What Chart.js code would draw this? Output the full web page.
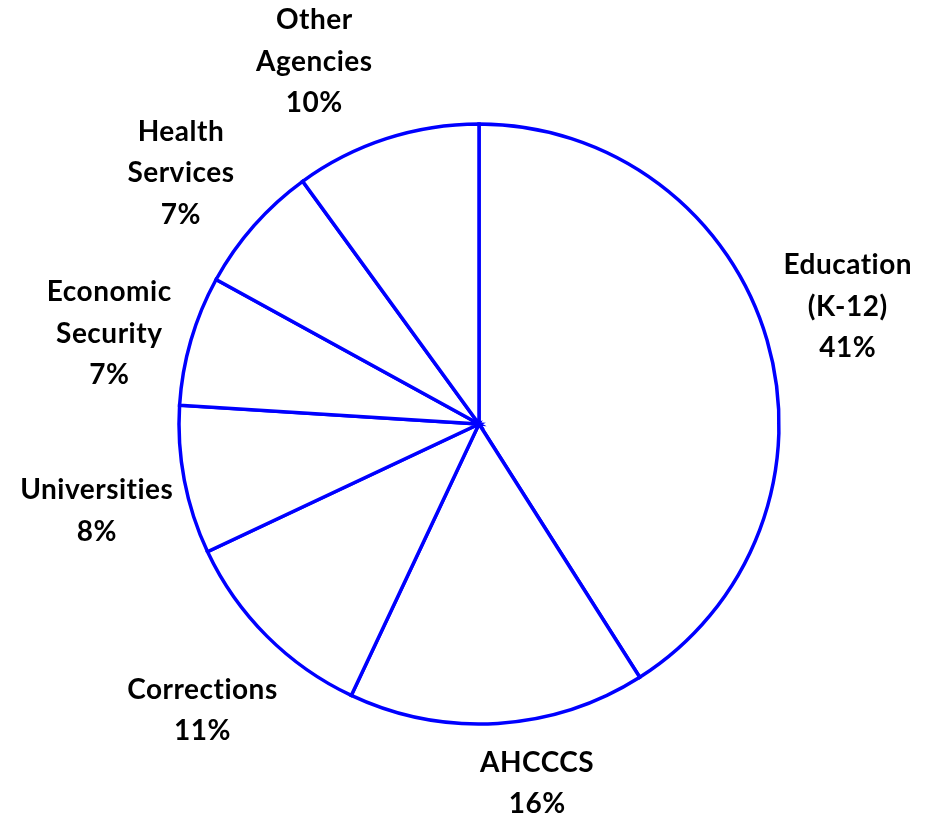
<!DOCTYPE html>
<html>
<head>
<meta charset="utf-8">
<script src="https://cdn.jsdelivr.net/npm/chart.js@4"></script>
<style>
  html, body { margin: 0; padding: 0; background: #fff; }
  #wrap { width: 932px; height: 815px; }
</style>
</head>
<body>
<div id="wrap"><canvas id="myChart"></canvas></div>
<script>
const categories = [
  ['Education', '(K-12)'],
  ['AHCCCS'],
  ['Corrections'],
  ['Universities'],
  ['Economic', 'Security'],
  ['Health', 'Services'],
  ['Other', 'Agencies']
];
const shares = [41, 16, 11, 8, 7, 7, 10];

// small hand tweaks so labels sit like the original layout
const labelNudge = [[0, -10], [34, -24], [-5, 15], [-5, 15], [-1, 17], [-10, 3], [-46, 3]];

const ctx = document.getElementById('myChart');

const outsideLabels = {
  id: 'outsideLabels',
  afterDatasetsDraw(chart) {
    const c = chart.ctx;
    const arcs = chart.getDatasetMeta(0).data;
    c.save();
    c.fillStyle = '#000';
    c.font = 'bold 28px Lato';
    c.letterSpacing = '0.5px'; // also keeps the "ti" ligature off
    c.textAlign = 'center';
    c.textBaseline = 'middle';
    const lineH = 41.5;
    arcs.forEach((arc, i) => {
      const p = arc.getProps(['x', 'y', 'startAngle', 'endAngle', 'outerRadius'], true);
      const mid = (p.startAngle + p.endAngle) / 2;
      const d = p.outerRadius * 1.28;
      const lines = categories[i].concat([shares[i] + '%']);
      const cx = p.x + Math.cos(mid) * d + labelNudge[i][0];
      const cy = p.y + Math.sin(mid) * d + labelNudge[i][1];
      const top = cy - (lines.length - 1) * lineH / 2;
      lines.forEach((t, k) => c.fillText(t, cx, top + k * lineH));
    });
    c.restore();
  }
};

new Chart(ctx, {
  type: 'pie',
  data: {
    labels: categories,
    datasets: [{
      data: shares,
      backgroundColor: '#ffffff',
      borderColor: '#0000ff',
      borderWidth: 3.5,
      borderJoinStyle: 'miter'
    }]
  },
  options: {
    responsive: true,
    maintainAspectRatio: false,
    animation: false,
    radius: 300,
    layout: { padding: { left: 26, right: 0, top: 33, bottom: 0 } },
    plugins: {
      legend: { display: false },
      tooltip: { enabled: false }
    }
  },
  plugins: [outsideLabels]
});
</script>
</body>
</html>
